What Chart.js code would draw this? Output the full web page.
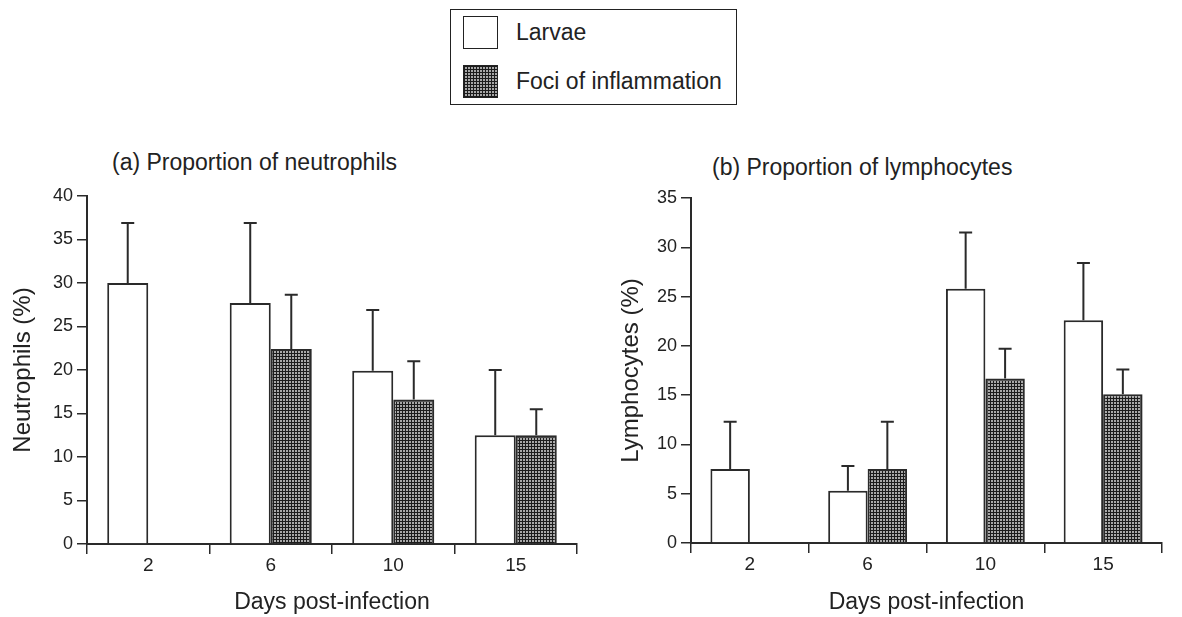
<!DOCTYPE html>
<html>
<head>
<meta charset="utf-8">
<script src="https://cdn.jsdelivr.net/npm/chart.js@4.4.1/dist/chart.umd.min.js"></script>
<style>
  html, body { margin: 0; padding: 0; background: #fff; }
  body { width: 1182px; height: 617px; position: relative; overflow: hidden;
         font-family: 'Liberation Sans', Arial, sans-serif; color: #222; }
  .panel { position: absolute; top: 140px; height: 477px; }
  #panelA { left: 0; width: 600px; }
  #panelB { left: 600px; width: 582px; }
  .ptitle { position: absolute; font-size: 23px; line-height: 26px; white-space: nowrap; }
  #legend { position: absolute; left: 450px; top: 9px; width: 285px; height: 94px;
            border: 1.5px solid #222; }
  .sw { position: absolute; left: 12px; width: 33px; height: 31px; border: 1.5px solid #222; }
  .lbl { position: absolute; left: 65px; font-size: 23px; line-height: 26px; white-space: nowrap; }
</style>
</head>
<body>
<div id="legend">
  <div class="sw" id="swLarvae" style="top:6px; background:#fff;"></div>
  <div class="lbl" style="top:9px;">Larvae</div>
  <div class="sw" id="swFoci" style="top:55px;"></div>
  <div class="lbl" style="top:58px;">Foci of inflammation</div>
</div>
<div class="ptitle" style="left:112px; top:149px;">(a) Proportion of neutrophils</div>
<div class="ptitle" style="left:712px; top:154px;">(b) Proportion of lymphocytes</div>
<div class="panel" id="panelA"><canvas id="chartA"></canvas></div>
<div class="panel" id="panelB"><canvas id="chartB"></canvas></div>

<script>
// ---- data ----
const days = ['2', '6', '10', '15'];
const seriesNames = ['Larvae', 'Foci of inflammation'];

// (a) neutrophils, mean and upper error (SD)
const neutLarvae = [30, 27.7, 19.9, 12.5];
const neutLarvaeErr = [6.9, 9.2, 7.0, 7.5];
const neutFoci = [0, 22.4, 16.6, 12.5];
const neutFociErr = [null, 6.25, 4.4, 3.0];

// (b) lymphocytes
const lymphLarvae = [7.5, 5.3, 25.8, 22.6];
const lymphLarvaeErr = [4.8, 2.5, 5.7, 5.8];
const lymphFoci = [0, 7.5, 16.7, 15.1];
const lymphFociErr = [null, 4.8, 3.0, 2.5];

const ink = '#2a2a2a';

Chart.defaults.font.family = "'Liberation Sans', Arial, sans-serif";
Chart.defaults.color = '#222';

// crosshatch fill used for foci bars
function makeHatch() {
    const c = document.createElement('canvas');
    c.width = 3; c.height = 3;
    const g = c.getContext('2d');
    g.fillStyle = '#1c1c1c';
    g.fillRect(0, 0, 3, 3);
    g.fillStyle = '#a8a8a8';
    g.fillRect(1, 1, 2, 2);
    return c;
}
const hatchTile = makeHatch();
document.getElementById('swFoci').style.backgroundImage = 'url(' + hatchTile.toDataURL() + ')';

// one-sided error bars with a small cap
const errorBars = {
    id: 'errorBars',
    afterDatasetsDraw(chart) {
        const ctx = chart.ctx;
        const y = chart.scales.y;
        ctx.save();
        ctx.strokeStyle = ink;
        ctx.lineWidth = 2;
        chart.data.datasets.forEach((ds, i) => {
            const meta = chart.getDatasetMeta(i);
            meta.data.forEach((bar, j) => {
                const err = ds.errors[j];
                if (err == null) return;
                const top = y.getPixelForValue(ds.data[j] + err);
                ctx.beginPath();
                ctx.moveTo(bar.x, bar.y);
                ctx.lineTo(bar.x, top);
                ctx.moveTo(bar.x - 6.5, top);
                ctx.lineTo(bar.x + 6.5, top);
                ctx.stroke();
            });
        });
        ctx.restore();
    }
};

function makeChart(id, larvae, larvaeErr, foci, fociErr, yMax, yTitle, opts) {
    const ctx = document.getElementById(id).getContext('2d');
    const hatch = ctx.createPattern(hatchTile, 'repeat');
    return new Chart(ctx, {
        type: 'bar',
        data: {
            labels: days,
            datasets: [
                {
                    label: seriesNames[0],
                    data: larvae,
                    errors: larvaeErr,
                    backgroundColor: '#fff',
                    borderColor: ink,
                    borderWidth: 2
                },
                {
                    label: seriesNames[1],
                    data: foci,
                    errors: fociErr,
                    backgroundColor: hatch,
                    borderColor: ink,
                    borderWidth: 2
                }
            ]
        },
        options: {
            responsive: true,
            maintainAspectRatio: false,
            animation: false,
            categoryPercentage: 0.67,
            barPercentage: 1,
            layout: { padding: { top: opts.top, right: opts.right, left: 0, bottom: 0 } },
            plugins: {
                legend: { display: false },
                tooltip: { enabled: false }
            },
            scales: {
                x: {
                    grid: { offset: true, drawOnChartArea: false, tickLength: 10, color: ink, lineWidth: 1.5 },
                    border: { color: ink, width: 2 },
                    ticks: { font: { size: 19 }, padding: 0 },
                    title: { display: true, text: 'Days post-infection', font: { size: 23 }, padding: { top: 0, bottom: 1 } },
                    afterFit: s => { s.height = opts.xh; }
                },
                y: {
                    min: 0,
                    max: yMax,
                    ticks: { stepSize: 5, font: { size: 18 }, padding: 4 },
                    grid: { drawOnChartArea: false, tickLength: 10, color: ink, lineWidth: 1.5 },
                    border: { color: ink, width: 2 },
                    title: { display: true, text: yTitle, font: { size: 24 }, padding: { top: opts.tp, bottom: 0 } },
                    afterFit: s => { s.width = opts.yw; }
                }
            }
        },
        plugins: [errorBars]
    });
}

makeChart('chartA', neutLarvae, neutLarvaeErr, neutFoci, neutFociErr, 40, 'Neutrophils (%)',
    { top: 56, right: 23, yw: 87, xh: 73, tp: 9 });
makeChart('chartB', lymphLarvae, lymphLarvaeErr, lymphFoci, lymphFociErr, 35, 'Lymphocytes (%)',
    { top: 58, right: 20, yw: 91, xh: 74, tp: 17 });
</script>
</body>
</html>
